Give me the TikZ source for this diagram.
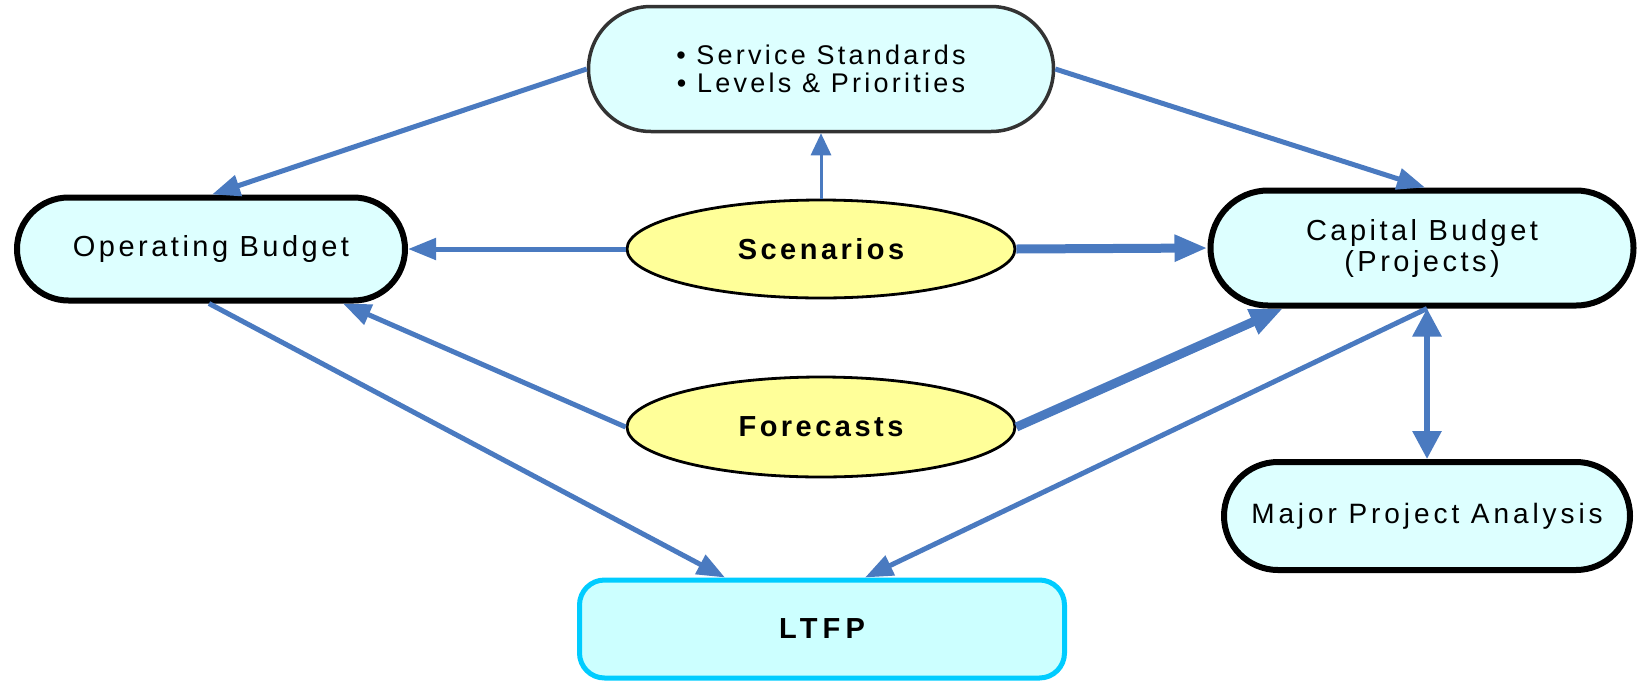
\documentclass[tikz,border=0pt]{standalone}
\usepackage{fontspec}
\setmainfont{Liberation Sans}
\usetikzlibrary{shapes.misc,shapes.geometric,arrows.meta,calc}
\definecolor{arr}{HTML}{4A7AC0}
\definecolor{boxfill}{HTML}{DDFFFF}
\definecolor{ltfill}{HTML}{CCFFFF}
\definecolor{ltline}{HTML}{00CCFF}
\definecolor{ylw}{HTML}{FFFF99}
\definecolor{dgray}{HTML}{333333}
\newfontfamily\spaced[LetterSpace=12]{Liberation Sans}
\newfontfamily\spacedm[LetterSpace=14]{Liberation Sans}
\newfontfamily\spacedw[LetterSpace=18]{Liberation Sans}
\begin{document}
\begin{tikzpicture}[x=1pt,y=-1pt,
  pill/.style={rounded rectangle, draw=black, line width=6pt, fill=boxfill, inner sep=0pt,
    align=center, font=\spaced\fontsize{29}{31}\selectfont},
  oval/.style={ellipse, draw=black, line width=2.8pt, fill=ylw, inner sep=0pt,
    minimum width=388pt, minimum height=98pt, font=\spaced\bfseries\fontsize{29}{30}\selectfont},
  con/.style={draw=arr, line width=5pt, -{Triangle[length=28pt,width=21pt]}},
  thickcon/.style={draw=arr, line width=9pt, -{Triangle[length=33pt,width=25pt]}},
  thincon/.style={draw=arr, line width=3pt, -{Triangle[length=22pt,width=20pt]}},
  dblcon/.style={draw=arr, line width=6pt, {Triangle[length=28pt,width=28pt]}-{Triangle[length=28pt,width=28pt]}}
]
\useasboundingbox (0,0) rectangle (1639,681);

\node[pill, draw=dgray, line width=3.5pt, minimum width=465pt, minimum height=125pt,
  font=\spaced\fontsize{27}{28}\selectfont] (ss) at (821,69) {• Service Standards\\• Levels \& Priorities};
\node[pill, minimum width=388pt, minimum height=103pt] (ob) at (211,249) {Operating Budget};
\node[pill, minimum width=423pt, minimum height=115pt] (cb) at (1422,248) {Capital Budget\\(Projects)};
\node[pill, minimum width=406pt, minimum height=108pt, font=\spacedm\fontsize{28}{30}\selectfont] (mpa) at (1427,516) {Major Project Analysis};
\node[oval] (sc) at (821,249) {Scenarios};
\node[oval, minimum height=100pt] (fc) at (821,427) {Forecasts};
\node[rectangle, rounded corners=25pt, draw=ltline, fill=ltfill, line width=5pt,
  minimum width=485pt, minimum height=98pt, inner sep=0pt,
  font=\spacedw\bfseries\fontsize{29}{30}\selectfont] (lt) at (822,629) {LTFP};

\draw[con] (ss.west) -- ($(ob.north)+(1,0)$);
\draw[con] (ss.east) -- ($(cb.north)+(3,0)$);
\draw[thincon] (sc.north) -- (ss.south);
\draw[con] (sc.west) -- (ob.east);
\draw[thickcon] (sc.east) -- (cb.west);
\draw[con] (fc.west) -- ($(ob.south)+(132,0)$);
\draw[thickcon] (fc.east) -- ($(cb.south)+(-139,0)$);
\draw[con] ($(ob.south)+(-2,0)$) -- ($(lt.north)+(-97,0)$);
\draw[con] ($(cb.south)+(5,0)$) -- ($(lt.north)+(43,0)$);
\draw[dblcon] ($(cb.south)+(5,0)$) -- (mpa.north);
\end{tikzpicture}
\end{document}
